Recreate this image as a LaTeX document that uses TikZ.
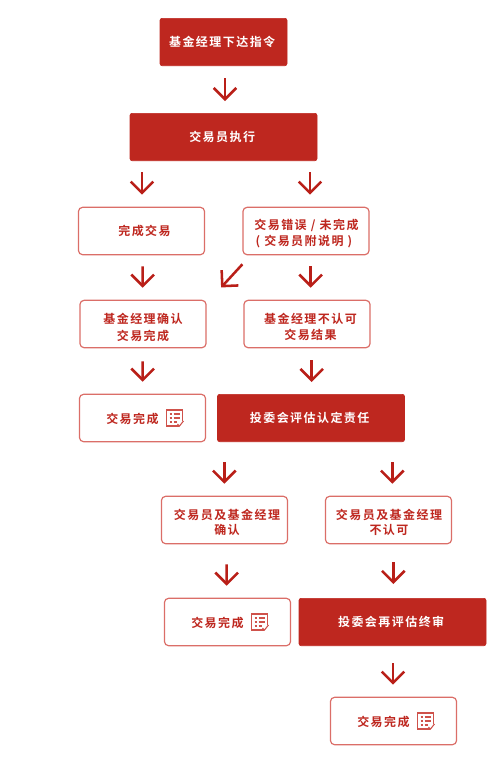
\documentclass[tikz,border=0pt]{standalone}
\usepackage{fontspec}
\usetikzlibrary{arrows.meta,positioning,calc}
\newfontfamily\cjk[LetterSpace=12]{Noto Sans CJK SC Bold}
\definecolor{flowred}{HTML}{BE271F}
\definecolor{edgered}{HTML}{DB6E68}
\definecolor{arrowred}{HTML}{B91F18}
\tikzset{
  boxfont/.style={font=\cjk\fontsize{9pt}{12.6pt}\selectfont},
  solidbox/.style={draw=flowred,fill=flowred,rounded corners=1.6pt,line width=0.5pt,minimum height=35.5pt,inner sep=0pt},
  plainbox/.style={draw=edgered,fill=white,rounded corners=3pt,line width=0.9pt,minimum width=94.5pt,minimum height=35.5pt,inner sep=0pt},
  boxtext/.style={boxfont,align=center,inner sep=0pt,text=flowred},
  iconline/.style={draw=edgered!60!flowred,line width=0.8pt},
  flow/.style={draw=arrowred,line width=1.9pt,-{Straight Barb[length=8.5pt,width=17pt]}}
}
\begin{document}
\begin{tikzpicture}[x=0.75pt,y=-0.75pt]
\useasboundingbox (0,0) rectangle (500,765);
% filled boxes
\foreach \name/\x/\y/\w/\txt in {boss/223.5/42/127/基金经理下达指令,trader/223.5/137/187/交易员执行,panel/311/418/187/投委会评估认定责任,review/392.5/622/187/投委会再评估终审} {
  \node[solidbox,minimum width=\w*0.75pt] (\name) at (\x,\y) {};
  \node[boxtext,text=white] (\name t) at ([xshift=-1pt]\name.center) {\txt};
}
% outlined boxes
\foreach \name/\x/\y/\dx/\dy/\txt in {deal/141.5/231/3/0/完成交易,fault/306/231/0.5/2.5/{交易错误 / 未完成\\( 交易员附说明 )\kern3.8pt},sure/143/324/0/3.5/基金经理确认\\交易完成,unsure/307/324/3.5/3/基金经理不认可\\交易结果,bothsure/224.5/520/2.5/2.5/交易员及基金经理\\[-1.6pt]确认,bothno/388.5/520/0.5/2.5/交易员及基金经理\\[-1.6pt]不认可} {
  \node[plainbox] (\name) at (\x,\y) {};
  \node[boxtext] (\name t) at ([shift={(\dx,\dy)}]\name.center) {\txt};
}
% finished boxes with the list icon
\foreach \name/\x/\y in {endA/142.5/418,endB/227.5/622,endC/393.5/721} {
  \node[plainbox] (\name) at (\x,\y) {};
  \node[boxtext,anchor=east] (\name t) at ([xshift=12.3pt,yshift=-0.4pt]\name.center) {交易完成};
  \begin{scope}[shift={(\name.center)},xshift=24pt]
    \draw[iconline] (4,8) -- (-8,8) -- (-8,-8) -- (8,-8) -- (8,3);
    \draw[iconline] (-5,-4) -- (-3,-4) (-1,-4) -- (5,-4) (-5,0) -- (-3,0) (-1,0) -- (5,0) (-5,4) -- (-3,4) (-1,4) -- (2,4);
    \draw[iconline] (3,6) -- (5,8) -- (9,3);
  \end{scope}
}
% arrows, offsets along the box edges and gaps to them
\foreach \from/\to/\fx/\tx/\gap/\hgap in {boss/trader/1.5/1.5/12/12,trader/deal/-81.5/0.5/11/12,trader/fault/86.5/4/11/12,deal/sure/1.2/-0.3/11/12,fault/unsure/4.7/3.7/11/12,sure/endA/-0.3/0.2/13/12,unsure/panel/4.7/0.7/12/12,panel/bothsure/-86.7/-0.2/20/12,panel/bothno/81.3/3.8/20/12,bothsure/endB/2.2/-0.8/20/12,bothno/review/4.8/0.8/18/14,review/endC/0.5/-0.5/17/12} {
  \draw[flow] ([shift={(\fx,\gap)}]\from.south) -- ([shift={(\tx,-\hgap)}]\to.north);
}
\draw[flow] ([shift={(0,9)}]fault.south west) -- ([shift={(14.5,-12.3)}]sure.north east);
\end{tikzpicture}
\end{document}
